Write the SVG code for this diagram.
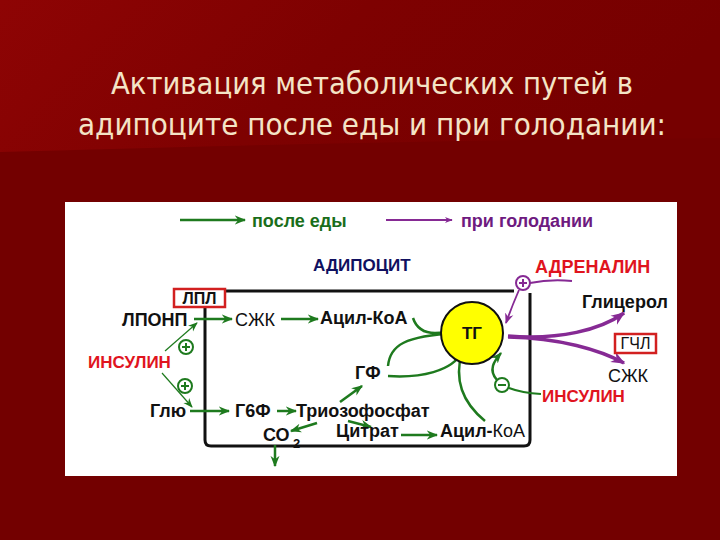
<svg xmlns="http://www.w3.org/2000/svg" width="720" height="540" viewBox="0 0 720 540">
<defs>
<linearGradient id="bgtop" x1="0" y1="0" x2="1" y2="0.2">
<stop offset="0" stop-color="#8e0404"/>
<stop offset="0.5" stop-color="#7e0101"/>
<stop offset="1" stop-color="#760000"/>
</linearGradient>
<marker id="ag" viewBox="0 0 10 10" refX="9" refY="5" markerWidth="4.5" markerHeight="4.5" orient="auto" markerUnits="strokeWidth">
<path d="M0,1 L10,5 L0,9 L3,5 z" fill="#1e7a1e"/>
</marker>
<marker id="agt" viewBox="0 0 10 10" refX="9" refY="5" markerWidth="8" markerHeight="8" orient="auto" markerUnits="strokeWidth">
<path d="M0,1 L10,5 L0,9 L3,5 z" fill="#1e7a1e"/>
</marker>
<marker id="ap" viewBox="0 0 10 10" refX="9" refY="5" markerWidth="4" markerHeight="4" orient="auto" markerUnits="strokeWidth">
<path d="M0,1 L10,5 L0,9 L3,5 z" fill="#862a94"/>
</marker>
<marker id="apt" viewBox="0 0 10 10" refX="9" refY="5" markerWidth="6" markerHeight="6" orient="auto" markerUnits="strokeWidth">
<path d="M0,1 L10,5 L0,9 L3,5 z" fill="#862a94"/>
</marker>
</defs>
<style>
text{font-family:"Liberation Sans",Arial,sans-serif;font-size:18px;fill:#111;}
.b{font-weight:bold;}
.red{fill:#e0141e;font-weight:bold;}
.title{font-family:"DejaVu Sans Condensed","Liberation Sans",sans-serif;font-size:30px;fill:#f4e4c6;}
.g{fill:none;stroke:#1e7a1e;stroke-width:2.5;marker-end:url(#ag);}
.gt{fill:none;stroke:#1e7a1e;stroke-width:1.2;marker-end:url(#agt);}
.p{fill:none;stroke:#862a94;stroke-width:3;marker-end:url(#ap);}
.pt{fill:none;stroke:#862a94;stroke-width:1.8;marker-end:url(#apt);}
.pm{fill:#fff;stroke:#1e7a1e;stroke-width:2;}
.pmp{fill:#fff;stroke:#862a94;stroke-width:2;}
.sg{stroke:#1e7a1e;stroke-width:2;}
.sp{stroke:#862a94;stroke-width:2;}
.box{fill:#fff;stroke:#d22020;stroke-width:2.5;}
</style>
<rect width="720" height="540" fill="#730000"/>
<path d="M0,0 H720 V138 Q400,140 0,152 z" fill="url(#bgtop)"/>
<g id="title">
<text class="title" x="372" y="94" text-anchor="middle" textLength="522" lengthAdjust="spacingAndGlyphs">Активация метаболических путей в</text>
<text class="title" x="372" y="135" text-anchor="middle" textLength="588" lengthAdjust="spacingAndGlyphs">адипоците после еды и при голодании:</text>
</g>
<rect x="65" y="202" width="612" height="274" fill="#fff"/>
<g id="legend">
<line x1="180" y1="220" x2="245" y2="220" class="g"/>
<text x="252" y="227" class="b" style="fill:#1a6e1a">после еды</text>
<line x1="386" y1="220" x2="452" y2="220" class="p" style="stroke-width:2"/>
<text x="461" y="227" class="b" style="fill:#6e1a80">при голодании</text>
</g>
<g id="cell">
<path d="M225,291 H514 M530,293 V440 Q530,446 524,446 H211 Q205,446 205,440 V308" fill="none" stroke="#111" stroke-width="3"/>
<text x="313" y="271" class="b" style="fill:#101060;font-size:17px">АДИПОЦИТ</text>
</g>
<g id="connectors">
<line x1="194" y1="319" x2="232" y2="319" class="g"/>
<line x1="281" y1="319" x2="318" y2="319" class="g"/>
<path d="M413,318 Q418,333 435,333 L456,332" class="g"/>
<path d="M388,366 C390,345 405,336 456,333" class="g"/>
<path d="M388,376 C420,378 452,372 463,351" class="g"/>
<path d="M485,421 C462,402 454,380 462,351" class="g"/>
<line x1="190" y1="411" x2="229" y2="411" class="g"/>
<line x1="277" y1="411" x2="296" y2="411" class="g"/>
<line x1="340" y1="402" x2="362" y2="386" class="g"/>
<line x1="348" y1="421" x2="371" y2="427" class="g"/>
<line x1="317" y1="423" x2="291" y2="431" class="g"/>
<line x1="275" y1="445" x2="275" y2="466" class="g"/>
<line x1="401" y1="435" x2="437" y2="435" class="g"/>
<path d="M165,351 L197,323" class="gt"/>
<path d="M162,373 L192,407" class="gt"/>
<path d="M497,380 C488,370 494,361 501,353" class="g"/>
<path d="M541,394 Q522,393 509,388" fill="none" class="sg"/>
<path d="M572,281 Q550,279 530,283" fill="none" class="sp"/>
<path d="M519,290 Q512,306 506,323" class="pt"/>
<path d="M508,336 C560,340 600,330 624,313" class="p" style="stroke-width:3.5"/>
<path d="M508,337 C560,338 600,350 624,363" class="p" style="stroke-width:3.5"/>
</g>
<g id="tg">
<circle cx="472" cy="333" r="31" fill="#ffff00" stroke="#111" stroke-width="2"/>
<text x="472" y="339" class="b" text-anchor="middle" style="font-size:17px">ТГ</text>
</g>
<g id="lpl">
<rect x="174" y="289" width="51" height="18" class="box"/>
<text x="199.5" y="304" class="b" text-anchor="middle" style="font-size:16px">ЛПЛ</text>
</g>
<g id="lponp"><text x="122" y="326" class="b">ЛПОНП</text></g>
<g id="szhk1"><text x="235" y="326">СЖК</text></g>
<g id="acylcoa1"><text x="320" y="324" class="b">Ацил-КоА</text></g>
<g id="insulin1"><text x="88" y="368" class="red" style="font-size:17px">ИНСУЛИН</text></g>
<g id="plus1"><circle cx="186" cy="347" r="7" class="pm"/><path d="M182,347 H190 M186,343 V351" class="sg"/></g>
<g id="plus2"><circle cx="185" cy="386" r="7" class="pm"/><path d="M181,386 H189 M185,382 V390" class="sg"/></g>
<g id="glu"><text x="150" y="417" class="b">Глю</text></g>
<g id="g6f"><text x="235" y="417" class="b">Г6Ф</text></g>
<g id="triose"><text x="296" y="417" class="b">Триозофосфат</text></g>
<g id="gf"><text x="355" y="379" class="b">ГФ</text></g>
<g id="co2"><text x="263" y="441" class="b">СО<tspan x="293" y="448" style="font-size:13px">2</tspan></text></g>
<g id="citrate"><text x="336" y="437" class="b">Цитрат</text></g>
<g id="acylcoa2"><text x="440" y="437"><tspan class="b">Ацил-</tspan>КоА</text></g>
<g id="adrenalin"><text x="535" y="273" class="red">АДРЕНАЛИН</text></g>
<g id="plus3"><circle cx="523" cy="283" r="7" class="pmp"/><path d="M519,283 H527 M523,279 V287" class="sp"/></g>
<g id="glycerol"><text x="582" y="308" class="b">Глицерол</text></g>
<g id="gchl"><rect x="615" y="334" width="41" height="19" class="box"/><text x="635.5" y="349" text-anchor="middle" style="font-size:16px">ГЧЛ</text></g>
<g id="szhk2"><text x="608" y="382">СЖК</text></g>
<g id="minus"><circle cx="502" cy="385" r="7" class="pm"/><path d="M498,385 H506" class="sg"/></g>
<g id="insulin2"><text x="542" y="402" class="red" style="font-size:17px">ИНСУЛИН</text></g>
</svg>
